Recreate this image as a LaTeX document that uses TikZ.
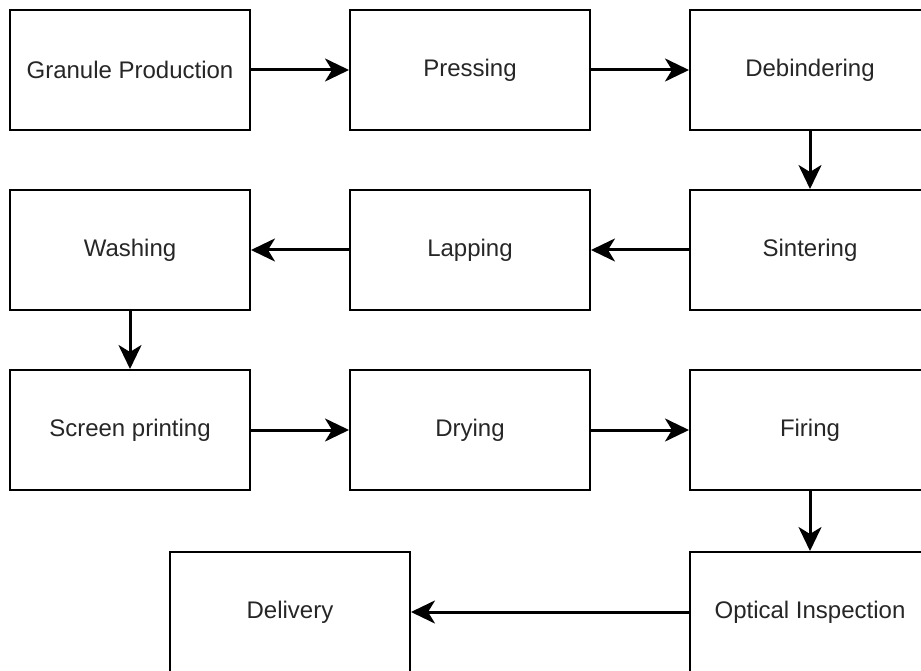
\documentclass[tikz,border=0pt]{standalone}
\usepackage{fontspec}
\setmainfont{Liberation Sans}
\usetikzlibrary{arrows.meta, positioning}

\begin{document}
\begin{tikzpicture}[x=1pt, y=-1pt, >={Stealth[length=24pt, width=23pt, inset=7pt]},
		stepbox/.style={draw, line width=2pt, minimum width=240pt, minimum height=120pt, inner sep=0pt, text=black!85, font=\fontsize{24}{28}\selectfont},
		flow/.style={->, line width=3pt}]
				\useasboundingbox (0,0) rectangle (921,671);
				
				\node[stepbox] (granule) at (130, 70) {Granule Production};
				\node[stepbox] (pressing) at (470, 70) {Pressing};
				\node[stepbox] (debinder) at (810, 70) {Debindering};
				
				\node[stepbox] (washing) at (130, 250) {Washing};
				\node[stepbox] (lapping) at (470, 250) {Lapping};
				\node[stepbox] (sinter) at (810, 250) {Sintering};
				
				\node[stepbox] (screen) at (130, 430) {Screen printing};
				\node[stepbox] (drying) at (470, 430) {Drying};
				\node[stepbox] (firing) at (810, 430) {Firing};
				
				\node[stepbox] (delivery) at (290, 612) {Delivery};
				\node[stepbox] (optical) at (810, 612) {Optical Inspection};
				
				\draw[flow] (granule) -- (pressing);
				\draw[flow] (pressing) -- (debinder);
				\draw[flow] (debinder) -- (sinter);
				\draw[flow] (sinter) -- (lapping);
				\draw[flow] (lapping) -- (washing);
				\draw[flow] (washing) -- (screen);
				\draw[flow] (screen) -- (drying);
				\draw[flow] (drying) -- (firing);
				\draw[flow] (firing) -- (optical);
				\draw[flow] (optical) -- (delivery);
			\end{tikzpicture}
\end{document}
